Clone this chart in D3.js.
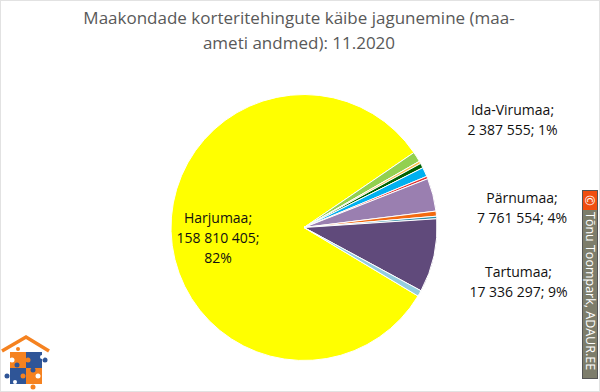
<!DOCTYPE html>
<html>
<head>
<meta charset="utf-8">
<script src="https://cdn.jsdelivr.net/npm/d3@7"></script>
<style>
  html, body { margin: 0; padding: 0; background: #fff; }
  svg { display: block; }
</style>
</head>
<body>
<div id="chart"></div>
<script>
// Chart data ---------------------------------------------------------------------------------------------------------
const titleLines = ["Maakondade korteritehingute käibe jagunemine (maa-", "ameti andmed): 11.2020"];
const regions = ["Harjumaa", "Ida-Virumaa", "Muu 1", "Muu 2", "Muu 3", "Muu 4", "Pärnumaa", "Muu 5", "Muu 6", "Tartumaa", "Muu 7"];
const turnover = [158810405, 2387555, 600000, 1100000, 2200000, 600000, 7761554, 1200000, 600000, 17336297, 1400000];
const colors = ["#ffff00", "#92d050", "#fcc24a", "#006100", "#00b0f0", "#e03030", "#9a7fb0", "#f36a10", "#2f8fa8", "#604a7b", "#93cddd"];

const labelRegions = ["Harjumaa", "Ida-Virumaa", "Pärnumaa", "Tartumaa"];
const labelLines = [
  ["Harjumaa;", "158 810 405;", "82%"],
  ["Ida-Virumaa;", "2 387 555; 1%"],
  ["Pärnumaa;", "7 761 554; 4%"],
  ["Tartumaa;", "17 336 297; 9%"]
];
const labelCenters = [[218, 238], [512.5, 119.5], [522, 208], [518.5, 282]];

const creditText = "Tõnu Toompark, ADAUR.EE";

// Initialize the canvas ----------------------------------------------------------------------------------------------
const canvasWidth = 600;
const canvasHeight = 392;
const fontFamily = "'Open Sans', sans-serif";

const svg = d3.select("#chart")
  .append("svg")
  .attr("width", canvasWidth)
  .attr("height", canvasHeight)
  .style("font-family", fontFamily);

// Image frame
svg.append("rect")
  .attr("x", 0.5)
  .attr("y", 0.5)
  .attr("width", canvasWidth - 1)
  .attr("height", canvasHeight - 1)
  .attr("fill", "#fff")
  .attr("stroke", "#e2e2e2");

// Title --------------------------------------------------------------------------------------------------------------
svg.append("g")
  .selectAll("text")
  .data(titleLines)
  .join("text")
  .text(d => d)
  .attr("x", 299)
  .attr("y", (d, i) => 23.5 + i * 25)
  .style("text-anchor", "middle")
  .style("font-size", "17px")
  .style("fill", "#595959");

// Pie ----------------------------------------------------------------------------------------------------------------
const pieRadius = 133;
const pieCenter = [304, 227.5];
const startAngle = 121 * Math.PI / 180;

const pie = d3.pie()
  .sort(null)
  .startAngle(startAngle)
  .endAngle(startAngle + 2 * Math.PI);
const arc = d3.arc()
  .innerRadius(0)
  .outerRadius(pieRadius);

const pieGroup = svg.append("g")
  .attr("transform", "translate(" + pieCenter[0] + "," + pieCenter[1] + ")");

pieGroup.selectAll("path")
  .data(pie(turnover))
  .join("path")
  .attr("d", arc)
  .attr("fill", (d, i) => colors[i])
  .attr("stroke", "#fff")
  .attr("stroke-width", 1)
  .attr("stroke-linejoin", "round");

// Data labels --------------------------------------------------------------------------------------------------------
const labelFontSize = 14;
const labelLineHeight = 20;

svg.append("g")
  .selectAll("text")
  .data(labelRegions)
  .join("text")
  .attr("transform", (d, i) => "translate(" + labelCenters[i][0] + "," + labelCenters[i][1] + ")")
  .style("text-anchor", "middle")
  .style("font-size", labelFontSize + "px")
  .style("fill", "#111")
  .selectAll("tspan")
  .data((d, i) => labelLines[i].map((line, j, all) => ({ line, offset: (j - (all.length - 1) / 2) * labelLineHeight })))
  .join("tspan")
  .text(d => d.line)
  .attr("x", 0)
  .attr("y", d => d.offset + 5);

// Credit strip -------------------------------------------------------------------------------------------------------
const credit = svg.append("g")
  .attr("transform", "translate(582, 190)");

credit.append("rect")
  .attr("x", 0.5)
  .attr("y", 0.5)
  .attr("width", 15)
  .attr("height", 188)
  .attr("fill", "#7d7d6b")
  .attr("stroke", "#555");

credit.append("rect")
  .attr("x", 1)
  .attr("y", 1)
  .attr("width", 14)
  .attr("height", 19)
  .attr("fill", "#f04e0f");

credit.append("text")
  .text("©")
  .attr("transform", "translate(8, 10.5) rotate(90)")
  .style("text-anchor", "middle")
  .style("dominant-baseline", "central")
  .style("font-size", "13px")
  .style("fill", "#fff");

credit.append("text")
  .text(creditText)
  .attr("transform", "translate(3.5, 22) rotate(90)")
  .style("font-size", "12.5px")
  .style("fill", "#fff");

// Logo ---------------------------------------------------------------------------------------------------------------
const orange = "#f58220";
const blue = "#2f5597";
const logo = svg.append("g")
  .attr("transform", "translate(0, 334)");

logo.append("polyline")
  .attr("points", "2,17 26,3 49,17")
  .attr("fill", "none")
  .attr("stroke", orange)
  .attr("stroke-width", 3.5);

const pieces = [
  [10, 18, orange], [26, 18, blue],
  [10, 34, blue], [26, 34, orange]
];
logo.selectAll("rect.piece")
  .data(pieces)
  .join("rect")
  .attr("class", "piece")
  .attr("x", d => d[0])
  .attr("y", d => d[1])
  .attr("width", 16)
  .attr("height", 16)
  .attr("fill", d => d[2]);

const knobs = [
  [18, 15, orange, 2], [45, 26, blue, 2.5], [7, 42, blue, 2.5], [33, 53, orange, 2.5],
  [28, 26, orange, 2.5], [17, 31, blue, 2.5], [33, 36, blue, 2.5], [23, 42, orange, 2.5],
  [12, 26, "#fff", 2.5], [42, 23, "#fff", 2], [38, 42, "#fff", 2.5], [15, 48, "#fff", 2]
];
logo.selectAll("circle")
  .data(knobs)
  .join("circle")
  .attr("cx", d => d[0])
  .attr("cy", d => d[1])
  .attr("r", d => d[3])
  .attr("fill", d => d[2]);
</script>
</body>
</html>
